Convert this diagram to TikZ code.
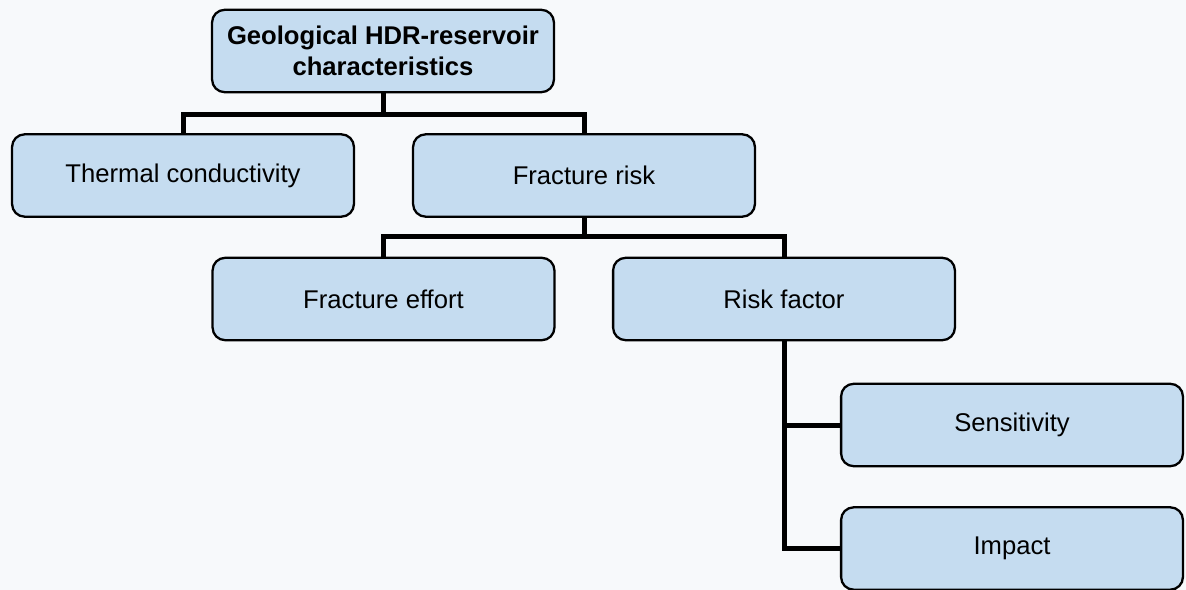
\documentclass[tikz,border=0pt]{standalone}
\usepackage{fontspec}
\setmainfont{Liberation Sans}
\usepackage{xcolor}
\definecolor{boxfill}{HTML}{C5DCF0}
\definecolor{paper}{HTML}{F7F9FB}

\begin{document}
\begin{tikzpicture}[x=0.4798pt, y=-0.4798pt,
		every node/.style={font=\fontsize{12.3}{14.6}\selectfont},
		box/.style={draw, line width=1.1pt, rounded corners=6pt, fill=boxfill,
			minimum width=164pt, minimum height=39.5pt, align=center, inner sep=2pt},
		link/.style={line width=2.4pt}
	]
		\fill [paper] (0,0) rectangle (1186,590);
		\useasboundingbox (0,0) rectangle (1186,590);
		%
		\node [box, font=\fontsize{12.3}{14.6}\selectfont\bfseries] (geo) at (383,51) {Geological HDR-reservoir\\characteristics};
		\node [box] (thermal) at (183,175.5) {Thermal conductivity};
		\node [box] (frisk) at (584,175.5) {Fracture risk};
		\node [box] (effort) at (383.5,299) {Fracture effort};
		\node [box] (rfactor) at (784,299) {Risk factor};
		\node [box] (sens) at (1012,425) {Sensitivity};
		\node [box] (impact) at (1012,548.5) {Impact};
		%
		\coordinate (j1) at (383,115);
		\coordinate (j2) at (584,237);
		%
		\draw [link] (geo.south) -- (j1);
		\draw [link] (thermal.north) |- (j1) -| (frisk.north);
		\draw [link] (frisk.south) -- (j2);
		\draw [link] (effort.north) |- (j2) -| (rfactor.north);
		\draw [link] (rfactor.south) |- (impact.west);
		\draw [link] (rfactor.south |- sens.west) -- (sens.west);
	\end{tikzpicture}
\end{document}
